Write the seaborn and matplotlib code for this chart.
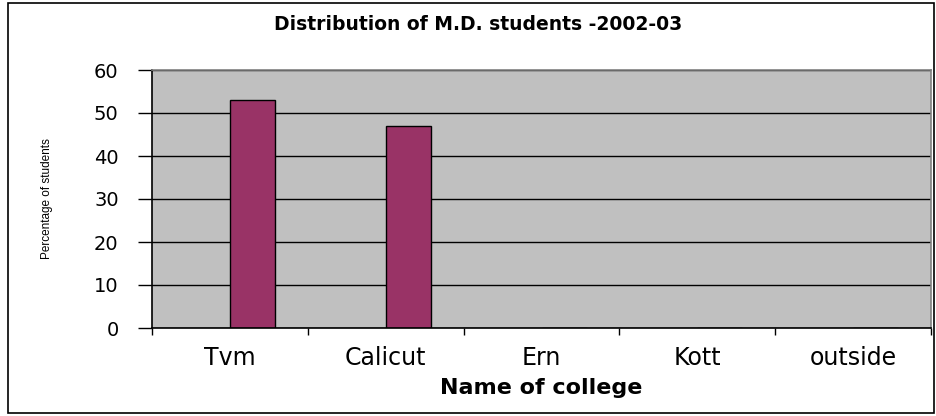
import matplotlib
matplotlib.use("Agg")
import matplotlib.pyplot as plt
import seaborn as sns
import pandas as pd
from matplotlib.patches import Rectangle
from matplotlib.ticker import FixedLocator, NullFormatter

colleges = ["Tvm", "Calicut", "Ern", "Kott", "outside"]
percent = [53, 47, 0, 0, 0]
series = ["2002-03"] * 5
hue_levels = ["blank", "2002-03"]

df = pd.DataFrame({"college": colleges, "percent": percent, "series": series})

sns.set_theme(style="white")
plt.rcParams["font.family"] = ["DejaVu Sans"]
plt.rcParams["text.color"] = "black"
plt.rcParams["axes.labelcolor"] = "black"
plt.rcParams["xtick.color"] = "black"
plt.rcParams["ytick.color"] = "black"

fig = plt.figure(figsize=(9.36, 4.16), dpi=100)
ax = fig.add_axes([152/936, 1-328/416, (931-152)/936, (328-70)/416])

sns.barplot(data=df, x="college", y="percent", hue="series", hue_order=hue_levels,
            palette={"blank": "#993366", "2002-03": "#993366"}, width=0.58, saturation=1,
            dodge=True, edgecolor="black", linewidth=1, ax=ax, legend=False, errorbar=None)

ax.set_facecolor("#C0C0C0")
ax.set_ylim(0, 60)
ax.set_xlim(-0.5, len(colleges) - 0.5)
ax.set_yticks(range(0, 61, 10))
ax.yaxis.grid(True, color="black", linewidth=1)
ax.set_axisbelow(True)
for s in ["top", "right"]:
    ax.spines[s].set_color("#808080")
    ax.spines[s].set_linewidth(1.2)
for s in ["left", "bottom"]:
    ax.spines[s].set_color("black")
    ax.spines[s].set_linewidth(1.2)

ax.tick_params(axis="y", which="major", left=True, length=10, width=1, color="black",
               labelsize=14, pad=14, labelcolor="black")
ax.tick_params(axis="x", which="major", bottom=False, labelsize=17, pad=7, labelcolor="black")
ax.xaxis.set_minor_locator(FixedLocator([i - 0.5 for i in range(len(colleges) + 1)]))
ax.xaxis.set_minor_formatter(NullFormatter())
ax.tick_params(axis="x", which="minor", bottom=True, length=5, width=1, color="black")

ax.set_xlabel("Name of college", fontsize=16, fontweight="bold", labelpad=6, color="black")
ax.set_ylabel("")
fig.text(47/936, 1-199/416, "Percentage of students", rotation=90, ha="center", va="center",
         fontsize=8.5, color="black", family=["Liberation Sans", "DejaVu Sans"])
fig.text(478/936, 1-24/416, "Distribution of M.D. students -2002-03", ha="center", va="center",
         fontsize=13.5, fontweight="bold", color="black")

fig.patches.append(Rectangle((8/936, 3/416), (934-8)/936, (413-3)/416, transform=fig.transFigure,
                             fill=False, edgecolor="black", linewidth=1.2))

fig.savefig("out.png", dpi=100)
